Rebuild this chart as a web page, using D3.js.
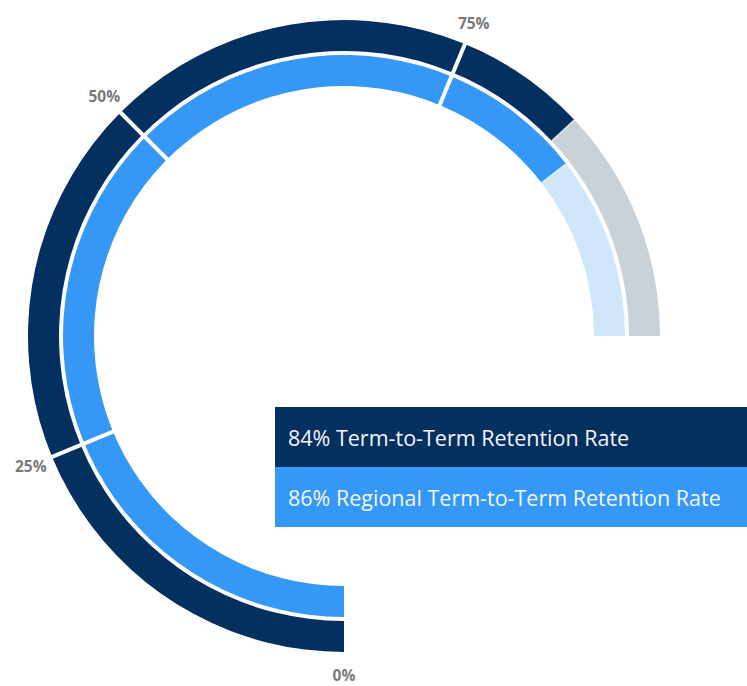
<!DOCTYPE html>
<html lang="en">
<head>
<meta charset="UTF-8">
<title>Retention Gauge</title>
<script src="https://d3js.org/d3.v7.min.js"></script>
<style>
    body { margin: 0; background: #ffffff; font-family: 'Open Sans', sans-serif; }
    .tick-label { font-size: 15.5px; font-weight: bold; fill: #7a7a7a; }
    .legend-text { font-size: 21.5px; fill: #f2f6fb; }
</style>
</head>
<body>
<div id="chart"></div>
<script>
    // values in percent
    const seriesNames = ["Term-to-Term Retention Rate", "Regional Term-to-Term Retention Rate"];
    const seriesValues = [84, 86];
    const fillColors = ["#03305f", "#3598f7"];
    const restColors = ["#c9d1d9", "#d0e6fb"];
    const tickValues = [0, 25, 50, 75];
    const tickLabels = ["0%", "25%", "50%", "75%"];

    const w = 747, h = 686;
    const cx = 344, cy = 336;
    // ring radii: outer ring first, inner ring second
    const rings = [[285, 316], [250, 281]];

    const svg = d3.select("#chart").append("svg")
        .attr("width", w)
        .attr("height", h);

    // 0% at the bottom, running clockwise through 270 degrees
    const angle = d3.scaleLinear().domain([0, 100]).range([Math.PI, 2.5 * Math.PI]);

    const g = svg.append("g").attr("transform", `translate(${cx},${cy})`);
    const arc = d3.arc();

    const radial = (r, a) => [r * Math.sin(a), -r * Math.cos(a)];

    seriesValues.forEach((v, i) => {
        const [r0, r1] = rings[i];
        g.append("path")
            .attr("d", arc({innerRadius: r0, outerRadius: r1, startAngle: angle(v), endAngle: angle(100)}))
            .attr("fill", restColors[i]);
        g.append("path")
            .attr("d", arc({innerRadius: r0, outerRadius: r1, startAngle: angle(0), endAngle: angle(v)}))
            .attr("fill", fillColors[i]);
        // thin line where the filled part meets the rest
        const p0 = radial(r0, angle(v)), p1 = radial(r1, angle(v));
        g.append("line")
            .attr("x1", p0[0]).attr("y1", p0[1])
            .attr("x2", p1[0]).attr("y2", p1[1])
            .attr("stroke", "#fff")
            .attr("stroke-opacity", 0.7)
            .attr("stroke-width", 1.5);
    });

    // white separators at the quarter marks
    tickValues.filter(t => t > 0).forEach(t => {
        const p0 = radial(246, angle(t)), p1 = radial(320, angle(t));
        g.append("line")
            .attr("x1", p0[0]).attr("y1", p0[1])
            .attr("x2", p1[0]).attr("y2", p1[1])
            .attr("stroke", "#fff")
            .attr("stroke-width", 4);
    });

    g.selectAll(".tick-label")
        .data(tickValues)
        .enter()
        .append("text")
        .attr("class", "tick-label")
        .attr("x", d => radial(339, angle(d))[0])
        .attr("y", d => radial(339, angle(d))[1])
        .attr("text-anchor", "middle")
        .attr("dominant-baseline", "central")
        .text((d, i) => tickLabels[i]);

    // legend boxes
    const legend = svg.append("g").attr("transform", "translate(275,407)");
    const rowH = 60;
    legend.selectAll("rect")
        .data(seriesValues)
        .enter()
        .append("rect")
        .attr("x", 0)
        .attr("y", (d, i) => i * rowH)
        .attr("width", 472)
        .attr("height", rowH)
        .attr("fill", (d, i) => fillColors[i]);

    legend.selectAll(".legend-text")
        .data(seriesValues)
        .enter()
        .append("text")
        .attr("class", "legend-text")
        .attr("x", 13)
        .attr("y", (d, i) => i * rowH + rowH / 2)
        .attr("dominant-baseline", "central")
        .text((d, i) => d + "% " + seriesNames[i]);
</script>
</body>
</html>
